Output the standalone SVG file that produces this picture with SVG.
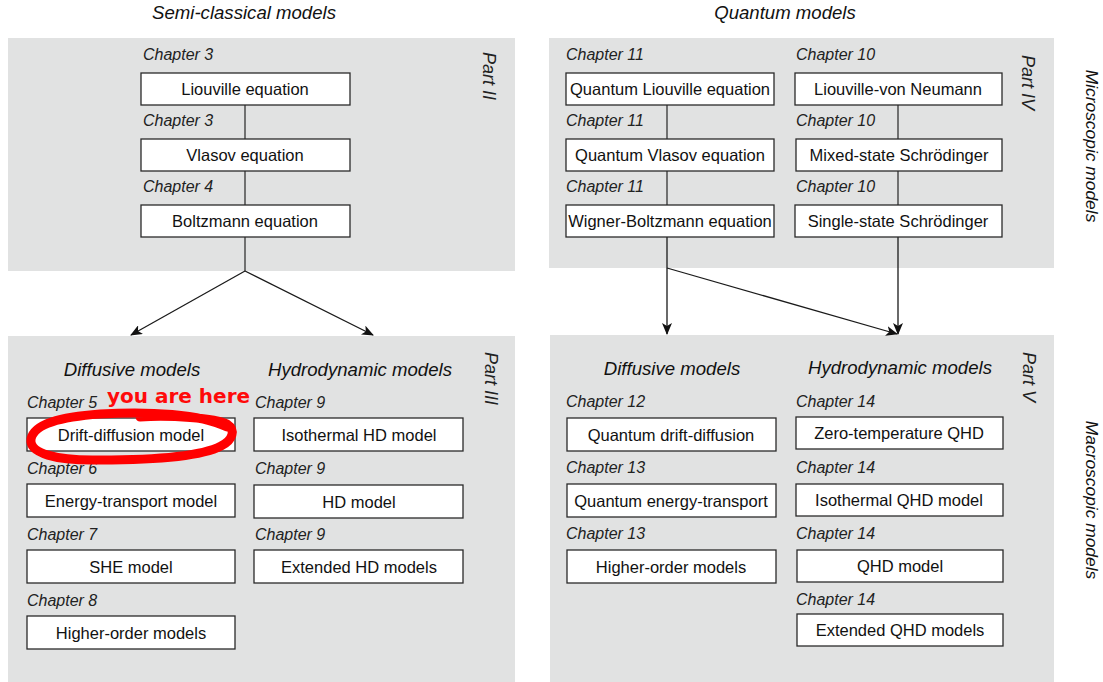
<svg xmlns="http://www.w3.org/2000/svg" width="1103" height="682" viewBox="0 0 1103 682">
<defs>
<style>
.panel{fill:#e1e2e2;stroke:none}
.box{fill:#fff;stroke:#2a2a2a;stroke-width:1.3}
.bt{font-family:"Liberation Sans",Arial,sans-serif;font-size:16.5px;fill:#111;text-anchor:middle}
.ch{font-family:"Liberation Sans",Arial,sans-serif;font-size:16px;font-style:italic;fill:#222}
.hd{font-family:"Liberation Sans",Arial,sans-serif;font-size:18.6px;font-style:italic;fill:#111;text-anchor:middle}
.pt{font-family:"Liberation Sans",Arial,sans-serif;font-size:18px;font-style:italic;fill:#222}
.sd{font-family:"Liberation Sans",Arial,sans-serif;font-size:17.4px;font-style:italic;fill:#111;text-anchor:middle}
.ln{stroke:#333;stroke-width:1.3;fill:none}
.ar{stroke:#1a1a1a;stroke-width:1.3;fill:none;marker-end:url(#ah)}
</style>
<marker id="ah" viewBox="0 0 12 10" refX="11" refY="5" markerWidth="12" markerHeight="10" markerUnits="userSpaceOnUse" orient="auto">
<path d="M0,0 L12,5 L0,10 L3,5 Z" fill="#111"/>
</marker>
</defs>
<rect width="1103" height="682" fill="#fff"/>

<g id="panels">
<rect class="panel" x="8" y="38" width="507" height="233"/>
<rect class="panel" x="549" y="38" width="505" height="230"/>
<rect class="panel" x="8" y="336" width="507" height="346"/>
<rect class="panel" x="550" y="335" width="504" height="347"/>
</g>

<g id="titles">
<text class="hd" x="244" y="19">Semi-classical models</text>
<text class="hd" x="785" y="19">Quantum models</text>
<text class="pt" transform="translate(483,52) rotate(90)">Part II</text>
<text class="pt" transform="translate(1022,55) rotate(90)">Part IV</text>
<text class="pt" transform="translate(485,352) rotate(90)">Part III</text>
<text class="pt" transform="translate(1023,352) rotate(90)">Part V</text>
<text class="sd" transform="translate(1086,146) rotate(90)">Microscopic models</text>
<text class="sd" transform="translate(1086,500) rotate(90)">Macroscopic models</text>
<text class="hd" x="132" y="376">Diffusive models</text>
<text class="hd" x="360" y="376">Hydrodynamic models</text>
<text class="hd" x="672" y="375">Diffusive models</text>
<text class="hd" x="900" y="374">Hydrodynamic models</text>
</g>

<g id="connectors">
<line class="ln" x1="245" y1="105" x2="245" y2="139"/>
<line class="ln" x1="245" y1="171" x2="245" y2="205"/>
<line class="ln" x1="245" y1="237" x2="245" y2="271"/>
<line class="ar" x1="245" y1="271" x2="131" y2="335"/>
<line class="ar" x1="245" y1="271" x2="373" y2="335"/>
<line class="ln" x1="667" y1="105" x2="667" y2="139"/>
<line class="ln" x1="667" y1="171" x2="667" y2="205"/>
<line class="ln" x1="898" y1="105" x2="898" y2="139"/>
<line class="ln" x1="898" y1="171" x2="898" y2="205"/>
<line class="ar" x1="667" y1="237" x2="667" y2="334"/>
<line class="ar" x1="667" y1="268" x2="897" y2="334"/>
<line class="ar" x1="898" y1="237" x2="898" y2="334"/>
</g>

<g id="n-liouville"><text class="ch" x="143" y="60">Chapter 3</text><rect class="box" x="141" y="73" width="209" height="32"/><text class="bt" x="245" y="95">Liouville equation</text></g>
<g id="n-vlasov"><text class="ch" x="143" y="126">Chapter 3</text><rect class="box" x="141" y="139" width="209" height="32"/><text class="bt" x="245" y="161">Vlasov equation</text></g>
<g id="n-boltzmann"><text class="ch" x="143" y="192">Chapter 4</text><rect class="box" x="141" y="205" width="209" height="32"/><text class="bt" x="245" y="227">Boltzmann equation</text></g>

<g id="n-qliouville"><text class="ch" x="566" y="60">Chapter 11</text><rect class="box" x="566" y="73" width="208" height="32"/><text class="bt" x="670" y="95">Quantum Liouville equation</text></g>
<g id="n-qvlasov"><text class="ch" x="566" y="126">Chapter 11</text><rect class="box" x="566" y="139" width="208" height="32"/><text class="bt" x="670" y="161">Quantum Vlasov equation</text></g>
<g id="n-wigner"><text class="ch" x="566" y="192">Chapter 11</text><rect class="box" x="566" y="205" width="208" height="32"/><text class="bt" x="670" y="227">Wigner-Boltzmann equation</text></g>
<g id="n-lvn"><text class="ch" x="796" y="60">Chapter 10</text><rect class="box" x="795" y="73" width="207" height="32"/><text class="bt" x="898" y="95">Liouville-von Neumann</text></g>
<g id="n-mixed"><text class="ch" x="796" y="126">Chapter 10</text><rect class="box" x="796" y="139" width="206" height="32"/><text class="bt" x="899" y="161">Mixed-state Schrödinger</text></g>
<g id="n-single"><text class="ch" x="796" y="192">Chapter 10</text><rect class="box" x="795" y="205" width="207" height="32"/><text class="bt" x="898" y="227">Single-state Schrödinger</text></g>

<g id="n-dd"><text class="ch" x="27" y="408">Chapter 5</text><rect class="box" x="27" y="418" width="208" height="33"/><text class="bt" x="131" y="441">Drift-diffusion model</text></g>
<g id="n-et"><text class="ch" x="27" y="474">Chapter 6</text><rect class="box" x="27" y="484" width="208" height="33"/><text class="bt" x="131" y="507">Energy-transport model</text></g>
<g id="n-she"><text class="ch" x="27" y="540">Chapter 7</text><rect class="box" x="27" y="550" width="208" height="33"/><text class="bt" x="131" y="573">SHE model</text></g>
<g id="n-ho"><text class="ch" x="27" y="606">Chapter 8</text><rect class="box" x="27" y="616" width="208" height="33"/><text class="bt" x="131" y="639">Higher-order models</text></g>
<g id="n-ihd"><text class="ch" x="255" y="408">Chapter 9</text><rect class="box" x="254" y="418" width="209" height="33"/><text class="bt" x="359" y="441">Isothermal HD model</text></g>
<g id="n-hd"><text class="ch" x="255" y="474">Chapter 9</text><rect class="box" x="254" y="485" width="209" height="33"/><text class="bt" x="359" y="508">HD model</text></g>
<g id="n-ehd"><text class="ch" x="255" y="540">Chapter 9</text><rect class="box" x="254" y="550" width="209" height="33"/><text class="bt" x="359" y="573">Extended HD models</text></g>

<g id="n-qdd"><text class="ch" x="566" y="407">Chapter 12</text><rect class="box" x="567" y="418" width="209" height="33"/><text class="bt" x="671" y="441">Quantum drift-diffusion</text></g>
<g id="n-qet"><text class="ch" x="566" y="473">Chapter 13</text><rect class="box" x="567" y="484" width="209" height="33"/><text class="bt" x="671" y="507">Quantum energy-transport</text></g>
<g id="n-qho"><text class="ch" x="566" y="539">Chapter 13</text><rect class="box" x="567" y="550" width="209" height="33"/><text class="bt" x="671" y="573">Higher-order models</text></g>
<g id="n-zqhd"><text class="ch" x="796" y="407">Chapter 14</text><rect class="box" x="796" y="417" width="207" height="32"/><text class="bt" x="899" y="439">Zero-temperature QHD</text></g>
<g id="n-iqhd"><text class="ch" x="796" y="473">Chapter 14</text><rect class="box" x="796" y="484" width="207" height="32"/><text class="bt" x="899" y="506">Isothermal QHD model</text></g>
<g id="n-qhd"><text class="ch" x="796" y="539">Chapter 14</text><rect class="box" x="797" y="550" width="206" height="32"/><text class="bt" x="900" y="572">QHD model</text></g>
<g id="n-eqhd"><text class="ch" x="796" y="605">Chapter 14</text><rect class="box" x="797" y="614" width="206" height="32"/><text class="bt" x="900" y="636">Extended QHD models</text></g>

<g id="annotation">
<path d="M227,427 C200,414 150,411 100,414 C60,417 34,424 31,439 C29,453 55,461 100,460 C150,460 200,457 221,446 C233,440 236,430 227,424 C215,418 170,415 140,417" fill="none" stroke="#ff0000" stroke-width="9" stroke-linecap="round" stroke-linejoin="round"/>
<text x="107" y="403" font-family="'DejaVu Sans',Verdana,sans-serif" font-weight="bold" font-size="20" fill="#ff0a0a">you are here</text>
</g>
</svg>
